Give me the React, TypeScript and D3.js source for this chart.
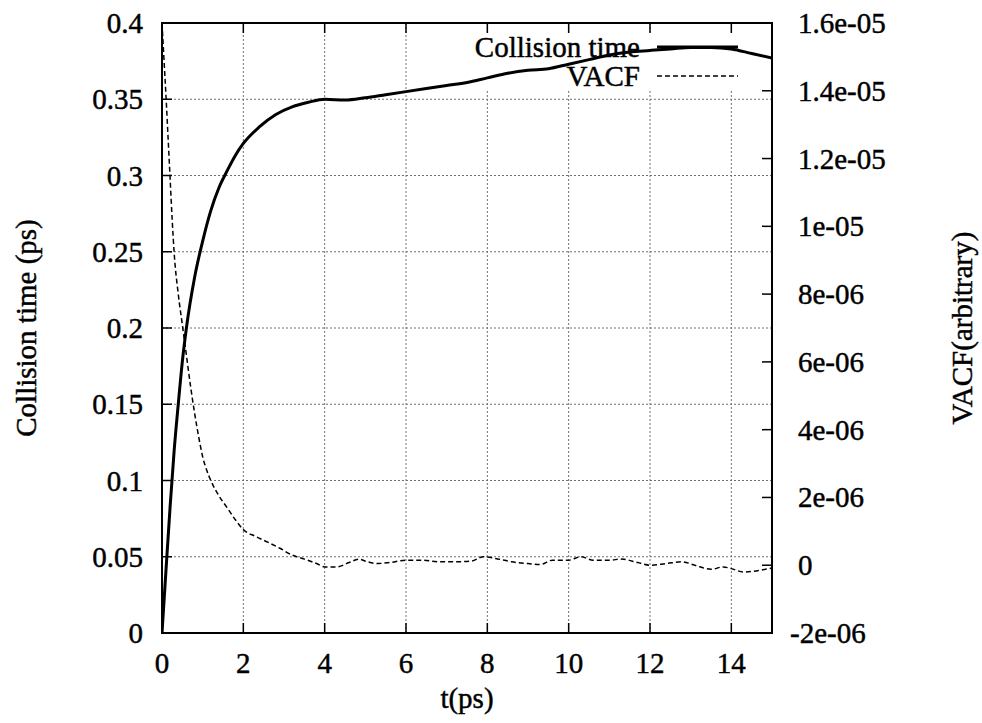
import React from "react";
import * as d3 from "d3";

const collisionT = [0, 0.1, 0.2, 0.3, 0.4, 0.5, 0.6, 0.8, 1.0, 1.2, 1.4, 1.6, 1.8, 2.0, 2.4, 2.8, 3.2, 3.6, 4.0, 4.5, 5.0, 5.5, 6.0, 6.5, 7.0, 7.5, 8.0, 8.5, 9.0, 9.5, 10.0, 10.5, 11.0, 11.5, 12.0, 12.5, 13.0, 13.5, 14.0, 14.5, 15.0];
const collisionV = [0, 0.042, 0.083, 0.12, 0.15, 0.178, 0.2, 0.233, 0.257, 0.277, 0.292, 0.303, 0.313, 0.321, 0.332, 0.34, 0.345, 0.348, 0.35, 0.3495, 0.351, 0.353, 0.355, 0.357, 0.359, 0.361, 0.364, 0.367, 0.369, 0.37, 0.373, 0.376, 0.379, 0.381, 0.382, 0.383, 0.384, 0.384, 0.383, 0.38, 0.377];

const vacfT = [0, 0.05, 0.1, 0.15, 0.2, 0.25, 0.3, 0.4, 0.5, 0.6, 0.7, 0.8, 0.9, 1.0, 1.1, 1.2, 1.4, 1.6, 1.8, 2.0, 2.3, 2.6, 2.9, 3.2, 3.5, 3.8, 4.0, 4.3, 4.6, 4.85, 5.0, 5.3, 5.6, 6.0, 6.4, 6.8, 7.2, 7.6, 7.9, 8.2, 8.6, 9.0, 9.3, 9.6, 10.0, 10.3, 10.6, 11.0, 11.3, 11.7, 12.0, 12.4, 12.8, 13.1, 13.5, 13.8, 14.0, 14.3, 14.7, 15.0];
const vacfV = [16.0, 14.9, 13.8, 12.6, 11.4, 10.2, 9.2, 8.0, 7.1, 6.2, 5.3, 4.5, 3.8, 3.2, 2.8, 2.5, 2.05, 1.7, 1.35, 1.05, 0.85, 0.68, 0.5, 0.3, 0.18, 0.05, -0.05, -0.05, 0.08, 0.18, 0.12, 0.05, 0.08, 0.15, 0.15, 0.1, 0.1, 0.12, 0.25, 0.2, 0.1, 0.05, 0.02, 0.15, 0.15, 0.25, 0.15, 0.15, 0.18, 0.08, 0.0, 0.05, 0.1, 0.0, -0.12, -0.05, -0.1, -0.2, -0.15, -0.08].map((v) => v * 1e-6);

const xTicks = [0, 2, 4, 6, 8, 10, 12, 14];
const yTicks = [0, 0.05, 0.1, 0.15, 0.2, 0.25, 0.3, 0.35, 0.4];
const yTickLabels = ["0", "0.05", "0.1", "0.15", "0.2", "0.25", "0.3", "0.35", "0.4"];
const y2Ticks = [-2e-6, 0, 2e-6, 4e-6, 6e-6, 8e-6, 1e-5, 1.2e-5, 1.4e-5, 1.6e-5];
const y2TickLabels = ["-2e-06", "0", "2e-06", "4e-06", "6e-06", "8e-06", "1e-05", "1.2e-05", "1.4e-05", "1.6e-05"];
const seriesNames = ["Collision time", "VACF"];

const W = 982, H = 723;
const L = 162, R = 772, T = 23, B = 633;
const TXT = { fontFamily: '"Liberation Serif"', fontSize: 29, stroke: "#000", strokeWidth: 0.45 } as React.CSSProperties;

export default function App() {
  const x = d3.scaleLinear().domain([0, 15]).range([L, R]);
  const y = d3.scaleLinear().domain([0, 0.4]).range([B, T]);
  const y2 = d3.scaleLinear().domain([-2e-6, 1.6e-5]).range([B, T]);

  const lineC = d3.line<number>().x((_, i) => x(collisionT[i])).y((d) => y(d)).curve(d3.curveMonotoneX);
  const lineV = d3.line<number>().x((_, i) => x(vacfT[i])).y((d) => y2(d)).curve(d3.curveMonotoneX);

  const gridStyle = { stroke: "#707070", strokeWidth: 1, strokeDasharray: "2,2" };
  const tick = 10;

  return (
    <svg width={W} height={H} style={{ position: "absolute", left: 0, top: 0, background: "#fff" }}>
      <defs>
        <clipPath id="plot">
          <rect x={L} y={T} width={R - L} height={B - T} />
        </clipPath>
      </defs>
      <rect x={0} y={0} width={W} height={H} fill="#fff" />
      {xTicks.filter((t) => t > 0).map((t) => (
        <line key={"gx" + t} x1={x(t)} x2={x(t)} y1={B} y2={T} {...gridStyle} />
      ))}
      {yTicks.filter((t) => t > 0 && t < 0.4).map((t) => (
        <line key={"gy" + t} x1={L} x2={R} y1={y(t)} y2={y(t)} {...gridStyle} />
      ))}
      <rect x={462} y={T + 9} width={R - 463} height={58} fill="#fff" />
      {xTicks.map((t) => (
        <g key={"tx" + t}>
          <line x1={x(t)} x2={x(t)} y1={B} y2={B - tick} stroke="#000" strokeWidth={1.5} />
          <line x1={x(t)} x2={x(t)} y1={T} y2={T + tick} stroke="#000" strokeWidth={1.5} />
          <text x={x(t)} y={673} textAnchor="middle" style={TXT}>{t}</text>
        </g>
      ))}
      {yTicks.map((t, i) => (
        <g key={"ty" + t}>
          <line x1={L} x2={L + tick} y1={y(t)} y2={y(t)} stroke="#000" strokeWidth={1.5} />
          <text x={143} y={y(t)} textAnchor="end" dominantBaseline="central" style={TXT}>{yTickLabels[i]}</text>
        </g>
      ))}
      {y2Ticks.map((t, i) => (
        <g key={"ty2" + i}>
          <line x1={R} x2={R - tick} y1={y2(t)} y2={y2(t)} stroke="#000" strokeWidth={1.5} />
          <text x={t < 0 ? 790 : 798} y={y2(t)} textAnchor="start" dominantBaseline="central" style={TXT}>{y2TickLabels[i]}</text>
        </g>
      ))}
      <g clipPath="url(#plot)">
        <path d={lineV(vacfV) || ""} fill="none" stroke="#000" strokeWidth={1.5} strokeDasharray="5,3" />
        <path d={lineC(collisionV) || ""} fill="none" stroke="#000" strokeWidth={3} />
      </g>
      <rect x={L} y={T} width={R - L} height={B - T} fill="none" stroke="#000" strokeWidth={2} />
      <text x={640} y={47} textAnchor="end" dominantBaseline="central" style={TXT}>{seriesNames[0]}</text>
      <line x1={657} x2={738} y1={47} y2={47} stroke="#000" strokeWidth={3} />
      <text x={640} y={76} textAnchor="end" dominantBaseline="central" style={TXT}>{seriesNames[1]}</text>
      <line x1={657} x2={738} y1={76} y2={76} stroke="#000" strokeWidth={1.5} strokeDasharray="5,3" />
      <text x={467} y={708} textAnchor="middle" style={TXT}>t(ps)</text>
      <text transform={`translate(36,${(T + B) / 2}) rotate(-90)`} textAnchor="middle" style={TXT}>Collision time (ps)</text>
      <text transform={`translate(972,${(T + B) / 2}) rotate(-90)`} textAnchor="middle" style={TXT}>VACF(arbitrary)</text>
    </svg>
  );
}
